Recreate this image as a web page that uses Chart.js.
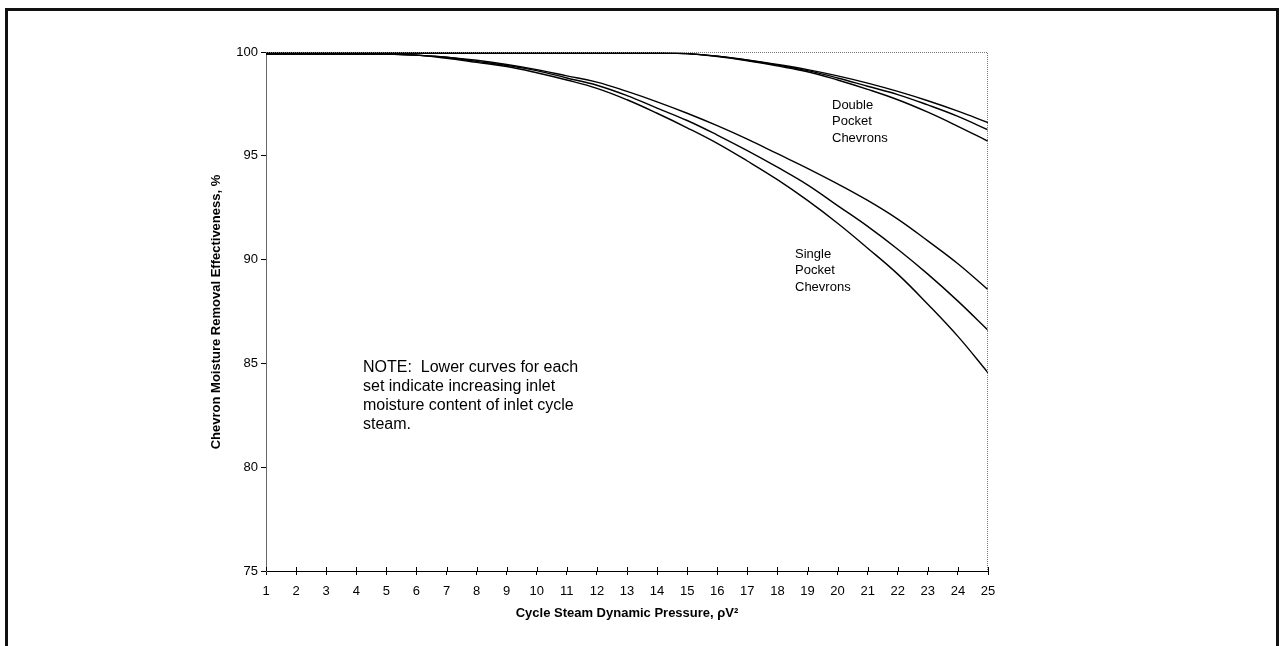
<!DOCTYPE html>
<html>
<head>
<meta charset="utf-8">
<script src="https://cdn.jsdelivr.net/npm/chart.js@4.4.1/dist/chart.umd.min.js"></script>
<style>
  html, body { margin: 0; padding: 0; background: #fff; }
  #wrap { position: relative; width: 1284px; height: 646px; }
  #frame {
    position: absolute; left: 5px; top: 8px; width: 1274px; height: 646px;
    border-left: 3px solid #111; border-top: 3px solid #111; border-right: 3px solid #111;
    box-sizing: border-box; pointer-events: none;
  }
  canvas { position: absolute; left: 0; top: 0; }
</style>
</head>
<body>
<div id="wrap">
  <canvas id="chart" width="1284" height="646"></canvas>
  <div id="frame"></div>
</div>
<script>
// ---- data ----
const pressure = [1, 2, 3, 4, 5, 6, 7, 8, 9, 10, 11, 12, 13, 14, 15, 16, 17, 18, 19, 20, 21, 22, 23, 24, 25];

// single pocket chevrons (upper -> lower = increasing inlet moisture)
const single1 = [99.9, 99.9, 99.9, 99.9, 99.9, 99.85, 99.75, 99.6, 99.4, 99.15, 98.85, 98.55, 98.1, 97.6, 97.05, 96.45, 95.8, 95.1, 94.4, 93.65, 92.85, 91.95, 90.9, 89.8, 88.55];
const single2 = [99.9, 99.9, 99.9, 99.9, 99.9, 99.85, 99.75, 99.55, 99.35, 99.1, 98.75, 98.4, 97.9, 97.3, 96.7, 96.0, 95.25, 94.45, 93.6, 92.6, 91.6, 90.5, 89.3, 88.0, 86.6];
const single3 = [99.9, 99.9, 99.9, 99.9, 99.9, 99.85, 99.7, 99.5, 99.3, 99.0, 98.65, 98.25, 97.7, 97.05, 96.35, 95.6, 94.75, 93.85, 92.85, 91.75, 90.55, 89.3, 87.85, 86.3, 84.55];

// double pocket chevrons
const double1 = [99.95, 99.95, 99.95, 99.95, 99.95, 99.95, 99.95, 99.95, 99.95, 99.95, 99.95, 99.95, 99.95, 99.95, 99.92, 99.8, 99.62, 99.4, 99.15, 98.85, 98.5, 98.1, 97.65, 97.15, 96.6];
const double2 = [99.95, 99.95, 99.95, 99.95, 99.95, 99.95, 99.95, 99.95, 99.95, 99.95, 99.95, 99.95, 99.95, 99.95, 99.92, 99.8, 99.6, 99.37, 99.1, 98.75, 98.35, 97.95, 97.45, 96.9, 96.25];
const double3 = [99.95, 99.95, 99.95, 99.95, 99.95, 99.95, 99.95, 99.95, 99.95, 99.95, 99.95, 99.95, 99.95, 99.95, 99.92, 99.78, 99.58, 99.33, 99.05, 98.65, 98.2, 97.7, 97.1, 96.42, 95.7];

const xTitle = 'Cycle Steam Dynamic Pressure, \u03C1V\u00B2';
const yTitle = 'Chevron Moisture Removal Effectiveness, %';
const doubleLabel = ['Double', 'Pocket', 'Chevrons'];
const singleLabel = ['Single', 'Pocket', 'Chevrons'];
const noteLines = ['NOTE:  Lower curves for each', 'set indicate increasing inlet', 'moisture content of inlet cycle', 'steam.'];

const FONT = '"Liberation Sans", Arial, Helvetica, sans-serif';

function toPoints(values) {
    return values.map((v, i) => ({ x: pressure[i], y: v }));
}

function lineSet(label, values) {
    return {
        label: label,
        data: toPoints(values),
        borderColor: '#000',
        borderWidth: 1.4,
        pointRadius: 0,
        fill: false,
        tension: 0.4
    };
}

// frame, crossing ticks and texts
const decorPlugin = {
    id: 'decor',
    afterDraw(chart) {
        const c = chart.ctx;
        const a = chart.chartArea;
        const xs = chart.scales.x;
        c.save();
        // dotted top and right edge of the plot
        c.strokeStyle = '#777';
        c.lineWidth = 1;
        c.setLineDash([1, 1]);
        c.beginPath();
        c.moveTo(a.left, a.top + 0.5);
        c.lineTo(a.right - 0.5, a.top + 0.5);
        c.lineTo(a.right - 0.5, a.bottom);
        c.stroke();
        c.setLineDash([]);
        // inner half of x ticks
        c.strokeStyle = '#000';
        pressure.forEach(p => {
            const px = Math.round(xs.getPixelForValue(p)) + 0.5;
            c.beginPath();
            c.moveTo(px, a.bottom - 4);
            c.lineTo(px, a.bottom);
            c.stroke();
        });

        c.fillStyle = '#000';
        // axis titles
        c.font = 'bold 13px ' + FONT;
        c.textAlign = 'center';
        c.textBaseline = 'middle';
        c.fillText(xTitle, (a.left + a.right) / 2, 613);
        c.save();
        c.translate(216, (a.top + a.bottom) / 2 + 0.5);
        c.rotate(-Math.PI / 2);
        c.fillText(yTitle, 0, 0);
        c.restore();

        // curve labels
        c.font = '13px ' + FONT;
        c.textAlign = 'left';
        doubleLabel.forEach((t, i) => c.fillText(t, 832, 105 + i * 16.7));
        singleLabel.forEach((t, i) => c.fillText(t, 795, 254 + i * 16.5));
        c.font = '16px ' + FONT;
        noteLines.forEach((t, i) => c.fillText(t, 363, 368 + i * 19));
        c.restore();
    }
};

const ctx = document.getElementById('chart').getContext('2d');
const chart = new Chart(ctx, {
    type: 'line',
    data: {
        datasets: [
            lineSet('Single 1', single1),
            lineSet('Single 2', single2),
            lineSet('Single 3', single3),
            lineSet('Double 1', double1),
            lineSet('Double 2', double2),
            lineSet('Double 3', double3)
        ]
    },
    options: {
        responsive: false,
        animation: false,
        layout: { padding: { left: 0, top: 52, right: 296, bottom: 0 } },
        plugins: {
            legend: { display: false },
            tooltip: { enabled: false }
        },
        scales: {
            x: {
                type: 'linear',
                min: 1,
                max: 25,
                afterFit(scale) { scale.height = 75; },
                ticks: {
                    stepSize: 1,
                    color: '#000',
                    font: { family: FONT, size: 13 },
                    padding: 9,
                    maxRotation: 0
                },
                grid: { drawOnChartArea: false, drawTicks: true, tickLength: 4, color: '#000' },
                border: { display: true, color: '#000', width: 1 }
            },
            y: {
                type: 'linear',
                min: 75,
                max: 100,
                afterFit(scale) { scale.width = 266; },
                ticks: {
                    stepSize: 5,
                    color: '#000',
                    font: { family: FONT, size: 13 },
                    padding: 3
                },
                grid: { drawOnChartArea: false, drawTicks: true, tickLength: 5, color: '#000' },
                border: { display: true, color: '#666', width: 1, dash: [1, 1] }
            }
        }
    },
    plugins: [decorPlugin]
});
</script>
</body>
</html>
